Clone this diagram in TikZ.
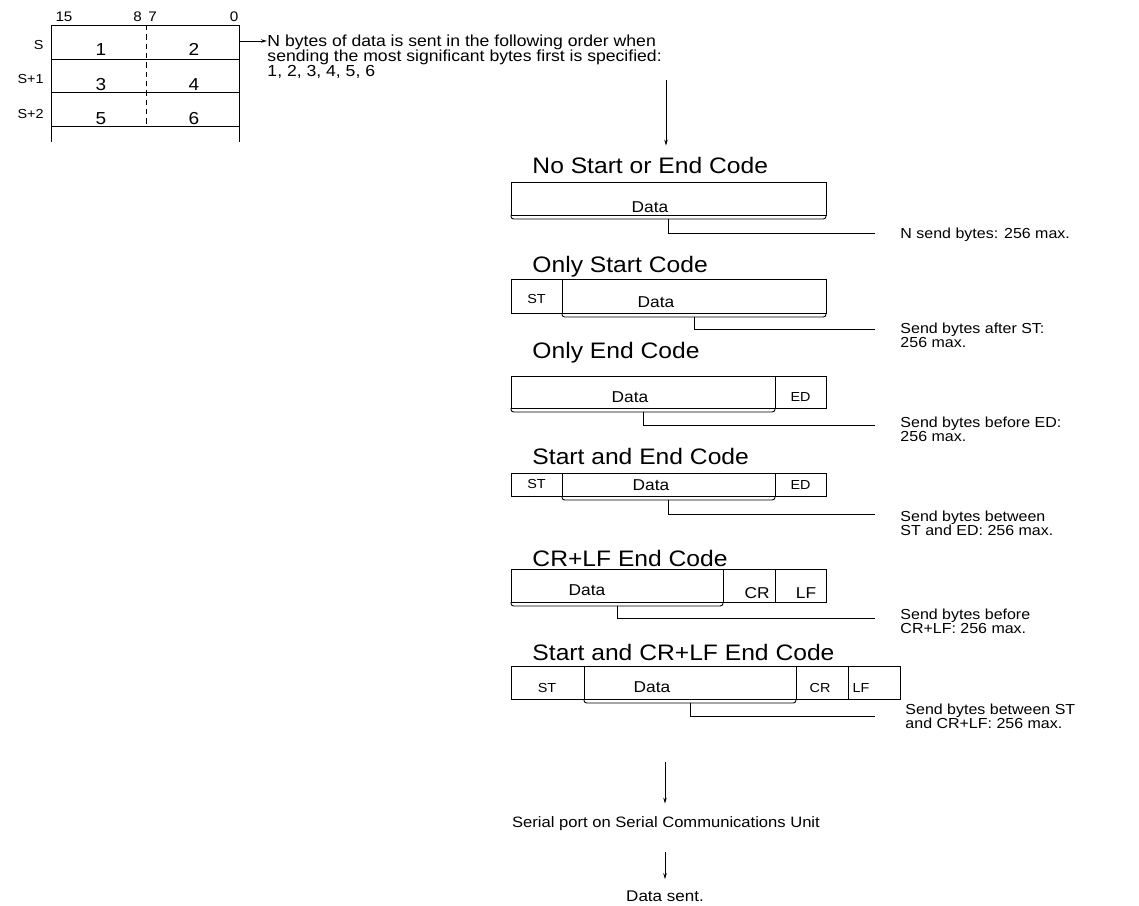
\documentclass[tikz,border=0pt]{standalone}
\usepackage{fontspec}
\setmainfont{Liberation Sans}[FakeStretch=1.1]
\usetikzlibrary{arrows.meta, positioning}

\begin{document}
\begin{tikzpicture}[
    x=0.75pt, y=-0.75pt,
    line width=0.7pt,
    heading/.style={anchor=base west, inner sep=0pt, font=\fontsize{16.8}{18}\selectfont},
    field/.style={anchor=base, inner sep=0pt, font=\fontsize{11.8}{13}\selectfont},
    code/.style={anchor=base, inner sep=0pt, font=\fontsize{9.8}{11}\selectfont},
    note/.style={anchor=north west, inner sep=0pt, align=left, font=\fontsize{10.9}{10.6}\selectfont},
    body/.style={anchor=north west, inner sep=0pt, align=left, font=\fontsize{12}{11.25}\selectfont},
    bit/.style={anchor=base, inner sep=0pt, font=\fontsize{10.4}{12}\selectfont},
    word/.style={anchor=base east, inner sep=0pt, font=\fontsize{9.8}{11}\selectfont},
    byte/.style={anchor=base, inner sep=0pt, font=\fontsize{13}{15}\selectfont},
    brace/.style={rounded corners=2pt},
    arrow/.style={-{Stealth[length=4.5pt, width=2.6pt]}},
]
    \useasboundingbox (0,0) rectangle (1139,906);

    % Word table
    \draw (51,142) -- (51,25) -- (239,25) -- (239,142);
    \foreach \y in {59,92,126}
        \draw (51,\y) -- (239,\y);
    \draw[dashed, dash pattern=on 4pt off 3pt] (146,25) -- (146,126);
    \node[bit] (b15) at (64,22) {15};
    \node[bit] (b8) at (137.5,22) {8};
    \node[bit] (b7) at (152.5,22) {7};
    \node[bit] (b0) at (234,22) {0};
    \foreach \lab/\hi/\lo [count=\i from 0] in {S/1/2, S+1/3/4, S+2/5/6} {
        \node[word] (w\i) at (44,50+34*\i) {\lab};
        \node[byte] (hi\i) at (101,56+34*\i) {\hi};
        \node[byte] (lo\i) at (194,56+34*\i) {\lo};
    }

    % Sending order
    \coordinate (t0) at (239,41);
    \node[body] (order) at (267,34) {N bytes of data is sent in the following order when\\sending the most significant bytes first is specified:\\1, 2, 3, 4, 5, 6};
    \draw[arrow] (t0) -- (t0 -| order.west);
    \coordinate (a1) at (666,80);

    % No Start or End Code
    \node[heading] (h1) at (532,173) {No Start or End Code};
    \draw[arrow, shorten >=8pt] (a1) -- (a1 |- h1.north);
    \draw (511,182) rectangle (826,215);
    \node[field] (d1) at (650,212) {Data};
    \draw[brace] (511,215) -- (511,219) -- (826,219) -- (826,215);
    \coordinate (s1) at (668.5,219);
    \coordinate (e1) at (875,233);
    \draw (s1) |- (e1);
    \node[note] (n1) at (900,228) {N send bytes: 256 max.};

    % Only Start Code
    \node[heading] (h2) at (532,272) {Only Start Code};
    \draw (511,279) rectangle (826,313);
    \draw (562,279) -- (562,313);
    \node[code] (st2) at (536.5,303) {ST};
    \node[field] (d2) at (656,307) {Data};
    \draw[brace] (562,313) -- (562,317) -- (826,317) -- (826,313);
    \coordinate (s2) at (694,317);
    \coordinate (e2) at (875,329);
    \draw (s2) |- (e2);
    \node[note] (n2) at (900,322) {Send bytes after ST:\\256 max.};

    % Only End Code
    \node[heading] (h3) at (532,358) {Only End Code};
    \draw (511,376) rectangle (826,408);
    \draw (775,376) -- (775,408);
    \node[field] (d3) at (630,402) {Data};
    \node[code] (ed3) at (800.5,401) {ED};
    \draw[brace] (511,408) -- (511,412) -- (775,412) -- (775,408);
    \coordinate (s3) at (643,412);
    \coordinate (e3) at (875,425);
    \draw (s3) |- (e3);
    \node[note] (n3) at (900,416) {Send bytes before ED:\\256 max.};

    % Start and End Code
    \node[heading] (h4) at (532,464) {Start and End Code};
    \draw (511,473) rectangle (826,496);
    \draw (562,473) -- (562,496);
    \draw (775,473) -- (775,496);
    \node[code] (st4) at (536.5,488) {ST};
    \node[field] (d4) at (651,490) {Data};
    \node[code] (ed4) at (800.5,489) {ED};
    \draw[brace] (562,496) -- (562,500) -- (775,500) -- (775,496);
    \coordinate (s4) at (668.5,500);
    \coordinate (e4) at (875,514);
    \draw (s4) |- (e4);
    \node[note] (n4) at (900,510) {Send bytes between\\ST and ED: 256 max.};

    % CR+LF End Code
    \node[heading] (h5) at (532,566) {CR+LF End Code};
    \draw (511,569) rectangle (826,602);
    \draw (723,569) -- (723,602);
    \draw (775,569) -- (775,602);
    \node[field] (d5) at (587,595) {Data};
    \node[field] (cr5) at (757,598) {CR};
    \node[field] (lf5) at (806,598) {LF};
    \draw[brace] (511,602) -- (511,606) -- (723,606) -- (723,602);
    \coordinate (s5) at (617,606);
    \coordinate (e5) at (875,618);
    \draw (s5) |- (e5);
    \node[note] (n5) at (900,608) {Send bytes before\\CR+LF: 256 max.};

    % Start and CR+LF End Code
    \node[heading] (h6) at (532,660) {Start and CR+LF End Code};
    \draw (511,666) rectangle (900,699);
    \draw (584,666) -- (584,699);
    \draw (796,666) -- (796,699);
    \draw (848,666) -- (848,699);
    \node[code] (st6) at (547,692) {ST};
    \node[field] (d6) at (652,692) {Data};
    \node[code] (cr6) at (820,692) {CR};
    \node[code] (lf6) at (861,692) {LF};
    \draw[brace] (584,699) -- (584,703) -- (796,703) -- (796,699);
    \coordinate (s6) at (690,703);
    \coordinate (e6) at (875,716);
    \draw (s6) |- (e6);
    \node[note] (n6) at (905,703) {Send bytes between ST\\and CR+LF: 256 max.};

    % Output
    \coordinate (a3) at (665,762);
    \node[anchor=base, inner sep=0pt, font=\fontsize{11.3}{13}\selectfont] (port) at (666,827) {Serial port on Serial Communications Unit};
    \draw[arrow, shorten >=9pt] (a3) -- (a3 |- port.north);
    \node[anchor=base, inner sep=0pt, font=\fontsize{11.6}{13}\selectfont] (sent) at (665,901) {Data sent.};
    \draw[arrow, shorten >=8pt] ([yshift=-16pt]port.south -| a3) -- (a3 |- sent.north);
\end{tikzpicture}
\end{document}
